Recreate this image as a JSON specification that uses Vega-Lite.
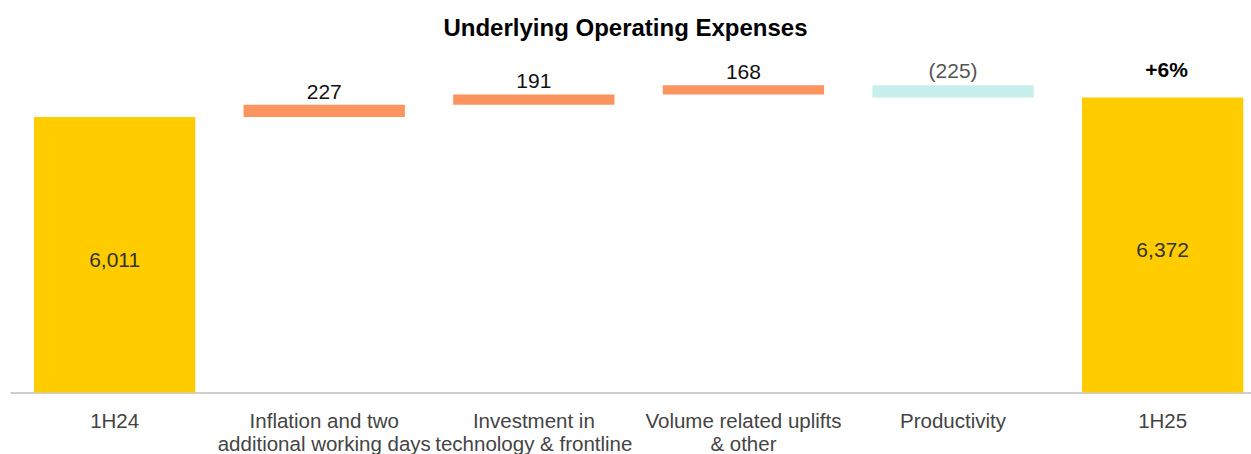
{
  "$schema": "https://vega.github.io/schema/vega-lite/v6.json",
  "width": 1241,
  "height": 342.5,
  "autosize": {"type": "none"},
  "padding": {"left": 10, "top": 50, "right": 0, "bottom": 61.5},
  "background": "white",
  "title": {
    "text": "Underlying Operating Expenses",
    "fontSize": 24,
    "font": "Liberation Sans",
    "fontWeight": "bold",
    "color": "#000000",
    "anchor": "middle",
    "frame": "group",
    "offset": -10,
    "baseline": "alphabetic",
    "dx": -5
  },
  "config": {"view": {"stroke": null}, "font": "Liberation Sans"},
  "data": {
    "values": [
      {"cat": "1H24", "start": 0, "end": 6011, "kind": "total", "inlabel": "6,011", "toplabel": ""},
      {"cat": "Inflation and two additional working days", "start": 6011, "end": 6238, "kind": "increase", "inlabel": "", "toplabel": "227"},
      {"cat": "Investment in technology & frontline", "start": 6238, "end": 6429, "kind": "increase", "inlabel": "", "toplabel": "191"},
      {"cat": "Volume related uplifts & other", "start": 6429, "end": 6597, "kind": "increase", "inlabel": "", "toplabel": "168"},
      {"cat": "Productivity", "start": 6597, "end": 6372, "kind": "decrease", "inlabel": "", "toplabel": "(225)"},
      {"cat": "1H25", "start": 0, "end": 6372, "kind": "total", "inlabel": "6,372", "toplabel": "+6%"}
    ]
  },
  "encoding": {
    "x": {
      "field": "cat",
      "type": "nominal",
      "sort": null,
      "scale": {"paddingInner": 0.2305, "paddingOuter": 0.0756, "align": 0.757},
      "axis": {
        "title": null,
        "labelAngle": 0,
        "ticks": false,
        "grid": false,
        "domainColor": "#BFBFBF",
        "domainWidth": 1.5,
        "labelFont": "Liberation Sans",
        "labelFontSize": 20.5,
        "labelColor": "#444444",
        "labelPadding": 35,
        "labelBaseline": "alphabetic",
        "labelLineHeight": 23,
        "labelLimit": 400,
        "labelOverlap": false,
        "labelFlush": false,
        "labelExpr": "datum.value == 'Inflation and two additional working days' ? ['Inflation and two', 'additional working days'] : datum.value == 'Investment in technology & frontline' ? ['Investment in', 'technology & frontline'] : datum.value == 'Volume related uplifts & other' ? ['Volume related uplifts', '& other'] : datum.value"
      }
    }
  },
  "layer": [
    {
      "mark": {"type": "bar"},
      "encoding": {
        "y": {
          "field": "start",
          "type": "quantitative",
          "scale": {"domain": [914, 7250], "nice": false, "zero": false, "clamp": true},
          "axis": null
        },
        "y2": {"field": "end"},
        "color": {
          "field": "kind",
          "type": "nominal",
          "scale": {"domain": ["total", "increase", "decrease"], "range": ["#FFCC00", "#FB945E", "#C6EEEA"]},
          "legend": null
        }
      }
    },
    {
      "transform": [{"filter": "datum.kind == 'increase'"}],
      "mark": {"type": "text", "baseline": "alphabetic", "dy": -6, "fontSize": 21, "color": "#111111", "font": "Liberation Sans"},
      "encoding": {
        "y": {"field": "end", "type": "quantitative"},
        "text": {"field": "toplabel"}
      }
    },
    {
      "transform": [{"filter": "datum.kind == 'decrease'"}],
      "mark": {"type": "text", "baseline": "alphabetic", "dy": -7, "fontSize": 21, "color": "#555555", "font": "Liberation Sans"},
      "encoding": {
        "y": {"field": "start", "type": "quantitative"},
        "text": {"field": "toplabel"}
      }
    },
    {
      "transform": [{"filter": "datum.kind == 'total' && datum.toplabel != ''"}],
      "mark": {"type": "text", "baseline": "alphabetic", "dy": -20, "dx": 4, "fontSize": 21, "fontWeight": "bold", "color": "#000000", "font": "Liberation Sans"},
      "encoding": {
        "y": {"field": "end", "type": "quantitative"},
        "text": {"field": "toplabel"}
      }
    },
    {
      "transform": [
        {"filter": "datum.kind == 'total'"},
        {"calculate": "(datum.end + 914) / 2", "as": "mid"}
      ],
      "mark": {"type": "text", "baseline": "alphabetic", "dy": 12, "fontSize": 21, "color": "#333333", "font": "Liberation Sans"},
      "encoding": {
        "y": {"field": "mid", "type": "quantitative"},
        "text": {"field": "inlabel"}
      }
    }
  ]
}
